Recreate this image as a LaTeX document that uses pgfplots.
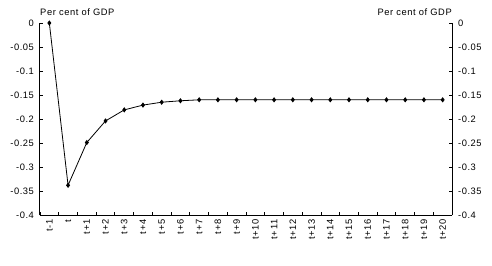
\documentclass[border=0pt]{standalone}
\usepackage{pgfplots}
\pgfplotsset{compat=1.18}
\usepackage{pgfplotstable}
\usepackage{fontspec}
\setmainfont[LetterSpace=6]{Liberation Sans}

\pgfplotstableread{
x y
0 0
1 -0.338
2 -0.249
3 -0.204
4 -0.181
5 -0.171
6 -0.165
7 -0.162
8 -0.160
9 -0.160
10 -0.160
11 -0.160
12 -0.160
13 -0.160
14 -0.160
15 -0.160
16 -0.160
17 -0.160
18 -0.160
19 -0.160
20 -0.160
21 -0.160
}\data

\begin{document}
\begin{tikzpicture}
\pgfplotsset{
  common/.style={
    scale only axis, width=309pt, height=144pt,
    xmin=-0.5, xmax=21.5, ymin=-0.4, ymax=0,
    ytick={-0.4,-0.35,-0.3,-0.25,-0.2,-0.15,-0.1,-0.05,0},
    yticklabels={-0.4,-0.35,-0.3,-0.25,-0.2,-0.15,-0.1,-0.05,0},
    tick align=inside, major tick length=2.5pt,
    tick style={black, line width=0.6pt},
    axis line style={black, line width=0.75pt},
    ticklabel style={font=\fontsize{7}{8}\selectfont},
    clip=false,
  }
}
\begin{axis}[common,
  axis x line*=bottom, axis y line*=left,
  xtick={-0.5,0.5,...,21.5},
  x tick label as interval,
  xticklabels={t-1,t,t+1,t+2,t+3,t+4,t+5,t+6,t+7,t+8,t+9,t+10,t+11,t+12,t+13,t+14,t+15,t+16,t+17,t+18,t+19,t+20},
  xticklabel style={rotate=90, anchor=east},
  yticklabel style={xshift=-1pt},
]
\addplot[black, line width=0.6pt, mark=diamond*, mark size=1.5pt, mark options={fill=black}] table[x=x,y=y]{\data};
\node[anchor=south west, font=\fontsize{7}{8}\selectfont, inner sep=0pt] at (rel axis cs:0,1.035) {Per cent of GDP};
\node[anchor=south east, font=\fontsize{7}{8}\selectfont, inner sep=0pt] at (rel axis cs:1,1.035) {Per cent of GDP};
\path (rel axis cs:-0.097,-0.2604) rectangle (rel axis cs:1.097,1.1198);
\end{axis}
\begin{axis}[common,
  axis x line=none, axis y line*=right,
  yticklabel style={xshift=1pt},
]
\end{axis}
\end{tikzpicture}
\end{document}
